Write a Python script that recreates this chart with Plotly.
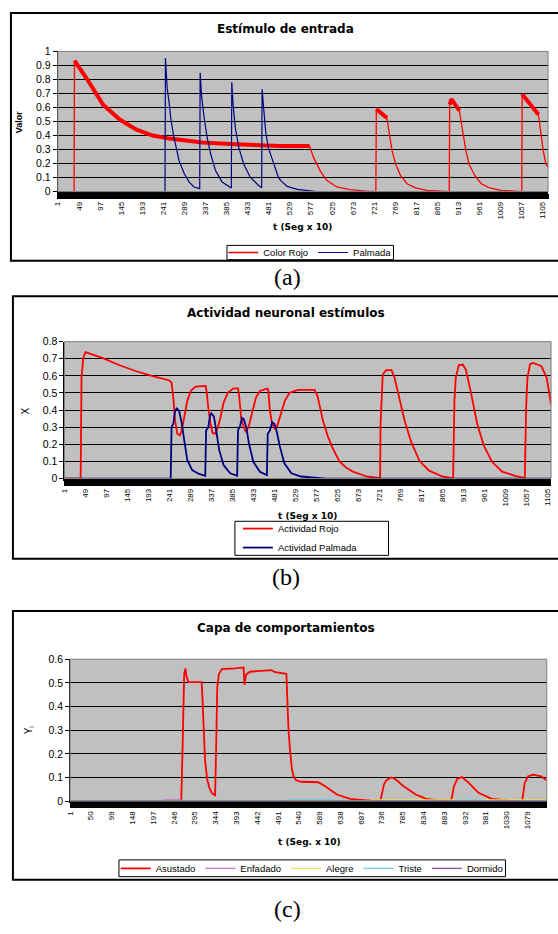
import plotly.graph_objects as go

W, H = 558, 934

# ---------------- data (t, value) ----------------
ticks_ab = [1, 49, 97, 145, 193, 241, 289, 337, 385, 433, 481, 529, 577, 625,
            673, 721, 769, 817, 865, 913, 961, 1009, 1057, 1105]
ticks_c = [1, 50, 99, 148, 197, 246, 295, 344, 393, 442, 491, 540, 589, 638,
           687, 736, 785, 834, 883, 932, 981, 1030, 1079]

# (a) Estímulo de entrada
rojo_a = [(1, 0), (38, 0), (39, 0.935), (66, 0.81), (104, 0.62), (142, 0.514),
          (179, 0.444), (217, 0.40), (255, 0.378), (330, 0.35), (405, 0.338),
          (508, 0.326), (574, 0.326), (583, 0.244), (598, 0.15), (613, 0.08),
          (636, 0.033), (666, 0.014), (702, 0.003), (725, 0), (726, 0.589),
          (750, 0.526), (757, 0.385), (762, 0.29), (770, 0.197), (781, 0.115),
          (796, 0.056), (815, 0.026), (841, 0.009), (870, 0.002), (892, 0),
          (893, 0.62), (897, 0.66), (915, 0.577), (924, 0.385), (930, 0.29),
          (937, 0.197), (950, 0.115), (965, 0.056), (984, 0.026), (1010, 0.009),
          (1040, 0.002), (1057, 0), (1058, 0.695), (1095, 0.55), (1101, 0.408),
          (1106, 0.29), (1112, 0.197), (1117, 0.174)]
rojo_a_noisy = [(39, 574), (726, 750), (893, 915), (1058, 1095)]
palmada_a = [(1, 0), (245, 0), (246, 0.953), (250, 0.737), (255, 0.62), (258, 0.526),
             (264, 0.408), (270, 0.315), (277, 0.22), (289, 0.127), (300, 0.068),
             (311, 0.033), (324, 0.021), (325, 0.847), (328, 0.69), (334, 0.526),
             (341, 0.385), (349, 0.268), (360, 0.15), (375, 0.068), (394, 0.028),
             (396, 0.026), (397, 0.78), (400, 0.62), (405, 0.456), (413, 0.315),
             (424, 0.197), (439, 0.103), (458, 0.044), (465, 0.028), (466, 0.73),
             (469, 0.596), (474, 0.432), (480, 0.315), (492, 0.197), (503, 0.103),
             (508, 0.08), (523, 0.037), (546, 0.016), (568, 0.009), (590, 0),
             (1117, 0)]

# (b) Actividad neuronal estímulos
rojo_b = [(1, 0), (38, 0), (40, 0.589), (44, 0.704), (49, 0.739), (89, 0.704),
          (127, 0.662), (165, 0.627), (203, 0.598), (241, 0.573), (246, 0.56),
          (250, 0.473), (254, 0.339), (259, 0.262), (265, 0.252), (269, 0.281),
          (275, 0.358), (282, 0.454), (290, 0.512), (301, 0.537), (324, 0.541),
          (326, 0.512), (330, 0.415), (335, 0.32), (340, 0.265), (346, 0.262),
          (352, 0.3), (358, 0.358), (365, 0.444), (375, 0.502), (388, 0.527),
          (398, 0.527), (401, 0.473), (405, 0.358), (411, 0.3), (416, 0.271),
          (422, 0.3), (430, 0.377), (439, 0.473), (448, 0.512), (464, 0.525),
          (467, 0.522), (471, 0.396), (476, 0.32), (482, 0.291), (488, 0.31),
          (496, 0.377), (505, 0.454), (516, 0.502), (535, 0.518), (573, 0.518),
          (580, 0.48), (592, 0.34), (603, 0.25), (613, 0.185), (630, 0.1),
          (645, 0.065), (661, 0.04), (692, 0.012), (720, 0.004), (723, 0.002),
          (724, 0.32), (727, 0.512), (729, 0.608), (737, 0.633), (749, 0.633),
          (756, 0.589), (767, 0.473), (779, 0.339), (794, 0.214), (813, 0.104),
          (835, 0.046), (865, 0.012), (888, 0.002), (890, 0.002), (893, 0.454),
          (896, 0.589), (903, 0.662), (912, 0.666), (919, 0.637), (930, 0.512),
          (945, 0.32), (960, 0.194), (979, 0.098), (1002, 0.04), (1032, 0.016),
          (1053, 0.002), (1054, 0.002), (1057, 0.415), (1060, 0.589), (1066, 0.67),
          (1073, 0.675), (1092, 0.656), (1104, 0.589), (1114, 0.435)]
palmada_b = [(1, 0), (244, 0), (246, 0.3), (250, 0.32), (254, 0.396), (258, 0.41),
             (263, 0.396), (269, 0.329), (275, 0.223), (282, 0.108), (293, 0.05),
             (309, 0.027), (323, 0.016), (325, 0.281), (330, 0.3), (334, 0.368),
             (337, 0.381), (343, 0.362), (348, 0.281), (355, 0.166), (365, 0.079),
             (380, 0.031), (396, 0.016), (398, 0.281), (403, 0.31), (407, 0.354),
             (411, 0.348), (417, 0.3), (423, 0.204), (433, 0.098), (448, 0.04),
             (464, 0.02), (466, 0.262), (471, 0.281), (476, 0.329), (481, 0.32),
             (486, 0.281), (494, 0.185), (504, 0.089), (520, 0.031), (542, 0.012),
             (572, 0.006), (600, 0), (1114, 0)]

# (c) Capa de comportamientos
asustado_c = [(1, 0), (263, 0), (266, 0.205), (268, 0.413), (270, 0.538), (273, 0.561),
              (275, 0.531), (280, 0.503), (311, 0.503), (313, 0.441), (316, 0.274),
              (319, 0.178), (324, 0.094), (330, 0.053), (336, 0.032), (343, 0.025),
              (346, 0.288), (348, 0.482), (352, 0.538), (359, 0.558), (390, 0.561),
              (410, 0.565), (412, 0.492), (416, 0.535), (425, 0.547), (453, 0.552),
              (476, 0.554), (484, 0.545), (507, 0.541), (511, 0.538), (513, 0.441),
              (516, 0.302), (520, 0.205), (524, 0.136), (528, 0.105), (534, 0.088),
              (546, 0.082), (586, 0.08), (601, 0.065), (616, 0.046), (630, 0.028),
              (661, 0.01), (700, 0.003), (733, 0.003), (737, 0.039), (741, 0.07),
              (746, 0.087), (758, 0.1), (764, 0.097), (774, 0.084), (784, 0.067),
              (793, 0.056), (807, 0.039), (816, 0.028), (827, 0.02), (840, 0.01),
              (871, 0.003), (900, 0.003), (906, 0.063), (914, 0.094), (925, 0.102),
              (941, 0.077), (964, 0.035), (995, 0.01), (1042, 0.001), (1067, 0.001),
              (1073, 0.077), (1081, 0.105), (1093, 0.112), (1112, 0.105), (1124, 0.088)]
enfadado_c = [(1, 0), (218, 0), (222, 0.006), (262, 0.006), (266, 0), (1125, 0)]
alegre_c = [(1, 0), (700, 0), (712, 0.006), (1125, 0.006)]
triste_c = [(1, 0), (510, 0), (515, 0.006), (620, 0.006), (640, 0), (900, 0),
            (915, 0.006), (970, 0.006), (990, 0), (1125, 0)]
dormido_c = [(1, 0), (1125, 0)]


def xs(s):
    return [p[0] for p in s]


def ys(s):
    return [p[1] for p in s]


def PX(x):
    return x / W


def PY(y):
    return 1 - y / H


# thick (noisy) parts of the "Color Rojo" series
thick_x, thick_y = [], []
for a, b in rojo_a_noisy:
    seg = [p for p in rojo_a if a <= p[0] <= b]
    thick_x += xs(seg) + [None]
    thick_y += ys(seg) + [None]

fig = go.Figure()

RED = '#FF0000'
NAVY = '#000080'

fig.add_trace(go.Scatter(x=xs(rojo_a), y=ys(rojo_a), mode='lines', name='Color Rojo',
                         line=dict(color=RED, width=1.3), xaxis='x', yaxis='y',
                         legend='legend', legendgroup='ra'))
fig.add_trace(go.Scatter(x=thick_x, y=thick_y, mode='lines', showlegend=False,
                         line=dict(color=RED, width=4), xaxis='x', yaxis='y',
                         legendgroup='ra', hoverinfo='skip'))
fig.add_trace(go.Scatter(x=xs(palmada_a), y=ys(palmada_a), mode='lines', name='Palmada',
                         line=dict(color=NAVY, width=1.2), xaxis='x', yaxis='y',
                         legend='legend'))

fig.add_trace(go.Scatter(x=xs(rojo_b), y=ys(rojo_b), mode='lines', name='Actividad Rojo',
                         line=dict(color=RED, width=1.8), xaxis='x2', yaxis='y2',
                         legend='legend2'))
fig.add_trace(go.Scatter(x=xs(palmada_b), y=ys(palmada_b), mode='lines',
                         name='Actividad Palmada', line=dict(color=NAVY, width=1.8),
                         xaxis='x2', yaxis='y2', legend='legend2'))

series_c = [('Asustado', asustado_c, RED, 1.8), ('Enfadado', enfadado_c, '#D070D0', 1.2),
            ('Alegre', alegre_c, '#F2DE50', 1.2), ('Triste', triste_c, '#70CCEE', 1.2),
            ('Dormido', dormido_c, '#8A4A9A', 1.2)]
for name, s, col, w in series_c:
    fig.add_trace(go.Scatter(x=xs(s), y=ys(s), mode='lines', name=name,
                             line=dict(color=col, width=w), xaxis='x3', yaxis='y3',
                             legend='legend3'))

TICKFONT = dict(family='Liberation Sans, Arial', size=8, color='#000')
YTICKFONT = dict(family='Liberation Sans, Arial', size=10.5, color='#000')


def xaxis(domain, rng, tickv, anchor):
    return dict(domain=domain, range=rng, anchor=anchor, tickmode='array',
                tickvals=tickv, ticktext=[str(t) for t in tickv], tickangle=-90,
                tickfont=TICKFONT, ticks='outside', ticklen=5, tickcolor='#000',
                tickwidth=1, showline=True, linecolor='#000', linewidth=2,
                showgrid=False, zeroline=False, fixedrange=True,
                minor=dict(ticks='outside', ticklen=5, tickcolor='#000', tickwidth=1,
                           tickmode='linear', tick0=1, dtick=2, showgrid=False))


def yaxis(domain, rng, anchor):
    return dict(domain=domain, range=rng, anchor=anchor, tick0=0, dtick=0.1,
                tickfont=YTICKFONT, ticks='outside', ticklen=4, tickcolor='#000',
                showline=True, linecolor='#000', linewidth=1, showgrid=True,
                gridcolor='#000', gridwidth=1, zeroline=False, fixedrange=True)


# plot-area pixel boxes (left, right, top, bottom)
A = (54.3, 549, 46, 188)
B = (61, 552, 340, 478.7)
C = (66.7, 547.7, 661.7, 805.5)


def dom(box):
    l, r, t, b = box
    return [PX(l), PX(r)], [PY(b), PY(t)]


ax_a, ay_a = dom(A)
ax_b, ay_b = dom(B)
ax_c, ay_c = dom(C)

LEGFONT = dict(family='Liberation Sans, Arial', size=9.5, color='#000')
legend_common = dict(bgcolor='rgba(0,0,0,0)', borderwidth=0, font=LEGFONT,
                     itemwidth=30, itemclick=False, itemdoubleclick=False)

shapes = []
# outer frames
for (x0, y0, x1, y1) in [(7, 7, 566, 258), (9, 294, 566, 560), (9, 613, 566, 885)]:
    shapes.append(dict(type='rect', xref='paper', yref='paper', x0=PX(x0), x1=PX(x1),
                       y0=PY(y1), y1=PY(y0), line=dict(color='#000', width=2)))
# plot-area borders (grey)
for xr, yr in [('x', 'y'), ('x2', 'y2'), ('x3', 'y3')]:
    shapes.append(dict(type='rect', xref=xr + ' domain', yref=yr + ' domain', x0=0, x1=1,
                       y0=0, y1=1, line=dict(color='#808080', width=1), layer='above'))
# legend boxes
for (x0, y0, x1, y1) in [(225, 242.5, 393, 257), (233, 522, 388, 556.5), (116, 865, 506, 882)]:
    shapes.append(dict(type='rect', xref='paper', yref='paper', x0=PX(x0), x1=PX(x1),
                       y0=PY(y1), y1=PY(y0), line=dict(color='#000', width=1),
                       fillcolor='#FFFFFF', layer='below'))

TITLEF = dict(family='DejaVu Sans', size=12, color='#000', weight='bold')
XTF = dict(family='DejaVu Sans', size=9, color='#000', weight='bold')
CAPF = dict(family='Liberation Serif, Times New Roman', size=24, color='#000')


def ann(text, x, y, font, angle=0):
    return dict(text=text, x=PX(x), y=PY(y), xref='paper', yref='paper',
                showarrow=False, xanchor='center', yanchor='middle', font=font,
                textangle=angle)


annotations = [
    ann('Estímulo de entrada', 284, 23, TITLEF),
    ann('Actividad neuronal estímulos', 285, 311, TITLEF),
    ann('Capa de comportamientos', 285, 630, TITLEF),
    ann('t (Seg x 10)', 301, 224, XTF),
    ann('t (Seg x 10)', 306, 517, XTF),
    ann('t (Seg. x 10)', 308, 847, XTF),
    ann('Valor', 16, 117, dict(family='Liberation Sans, Arial', size=9, color='#000',
                                weight='bold'), -90),
    ann('X', 22, 410, dict(family='Liberation Sans, Arial', size=10, color='#000'), -90),
    ann('Y<sub>i</sub>', 25, 733, dict(family='Liberation Sans, Arial', size=10,
                                       color='#000'), -90),
    ann('(a)', 286, 275, CAPF),
    ann('(b)', 285, 578, CAPF),
    ann('(c)', 286, 915, CAPF),
]

fig.update_layout(
    width=W, height=H, margin=dict(l=0, r=0, t=0, b=0),
    paper_bgcolor='#FFFFFF', plot_bgcolor='#C0C0C0',
    xaxis=xaxis(ax_a, [1, 1117], ticks_ab, 'y'),
    yaxis=yaxis(ay_a, [0, 1], 'x'),
    xaxis2=xaxis(ax_b, [1, 1114], ticks_ab, 'y2'),
    yaxis2=yaxis(ay_b, [0, 0.8], 'x2'),
    xaxis3=xaxis(ax_c, [1, 1125], ticks_c, 'y3'),
    yaxis3=yaxis(ay_c, [0, 0.6], 'x3'),
    legend=dict(legend_common, orientation='h', x=PX(309), y=PY(249.7),
                xanchor='center', yanchor='middle'),
    legend2=dict(legend_common, orientation='v', x=PX(236), y=PY(539),
                 xanchor='left', yanchor='middle'),
    legend3=dict(legend_common, orientation='h', x=PX(311), y=PY(873.5),
                 xanchor='center', yanchor='middle'),
    shapes=shapes, annotations=annotations, showlegend=True,
)

fig.write_html('out.html',
               config={'displayModeBar': False, 'staticPlot': False},
               post_script="document.body.style.margin='0';"
                           "document.body.style.overflow='hidden';")
